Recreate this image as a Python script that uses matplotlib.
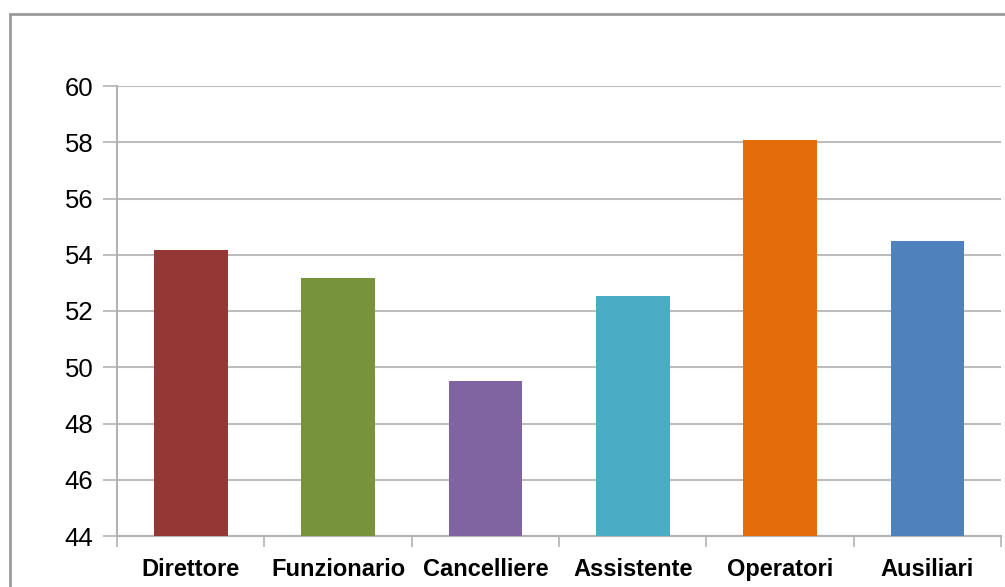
import matplotlib
matplotlib.use('Agg')
import matplotlib.pyplot as plt
from matplotlib.patches import Rectangle

categories = ['Direttore', 'Funzionario', 'Cancelliere', 'Assistente', 'Operatori', 'Ausiliari']
values = [54.18, 53.19, 49.51, 52.53, 58.08, 54.49]
colors = ['#953735', '#77933C', '#8064A2', '#4BACC6', '#E46C0A', '#4F81BD']
yticks = [44, 46, 48, 50, 52, 54, 56, 58, 60]

plt.rcParams['font.family'] = ['Liberation Sans', 'DejaVu Sans']

fig = plt.figure(figsize=(10.05, 5.87), dpi=100)
ax = fig.add_axes([117/1005, 1 - 536/587, (1001 - 117)/1005, (536 - 86)/587])

# outer chart frame (only top and left edges visible)
fig.patches.append(Rectangle((10/1005, -0.5), 2, 0.5 + (587 - 14)/587,
                             transform=fig.transFigure, fill=False,
                             edgecolor='#9a9a9a', linewidth=2))

x = range(len(categories))
ax.bar(x, [v - 44 for v in values], bottom=44, width=0.5, color=colors, zorder=3)

ax.set_ylim(44, 60)
ax.set_xlim(-0.5, len(categories) - 0.5)
ax.set_yticks(yticks)
ax.set_yticklabels([str(t) for t in yticks], fontsize=18.5)
ax.tick_params(axis='y', length=10, width=1.2, color='#b3b3b3', pad=7)
ax.grid(axis='y', color='#bdbdbd', linewidth=1.5, zorder=0)

ax.set_xticks(list(x))
ax.set_xticklabels(categories, fontsize=17, fontweight='bold')
ax.tick_params(axis='x', length=0, pad=16)
ax.set_xticks([i - 0.5 for i in range(len(categories) + 1)], minor=True)
ax.tick_params(axis='x', which='minor', length=8, width=1.2, color='#b3b3b3')

for s in ['top', 'right']:
    ax.spines[s].set_visible(False)
for s in ['left', 'bottom']:
    ax.spines[s].set_color('#b3b3b3')
    ax.spines[s].set_linewidth(1.5)

fig.savefig('out.png', dpi=100)
